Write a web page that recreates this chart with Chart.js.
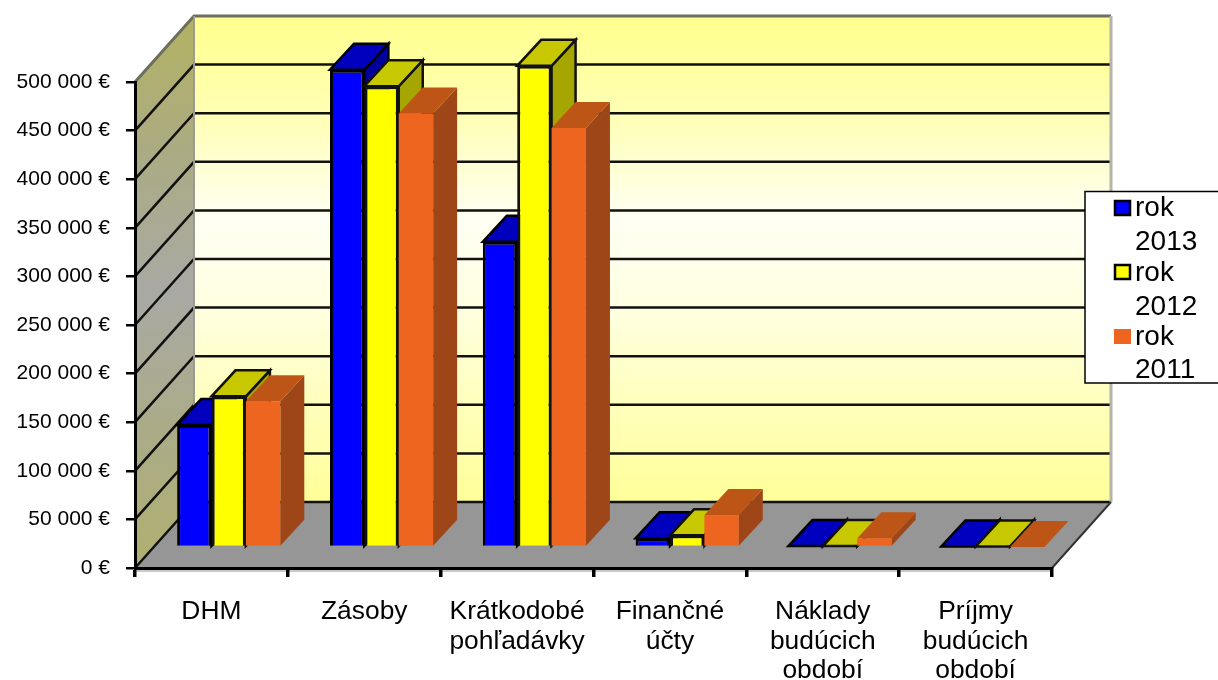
<!DOCTYPE html>
<html><head><meta charset="utf-8">
<style>html,body{margin:0;padding:0;background:#fff}canvas{display:block}</style>
<script src="https://cdn.jsdelivr.net/npm/chart.js@4/dist/chart.umd.min.js"></script>
</head><body><div style="width:1218px;height:680px"><canvas id="c" width="1218" height="680"></canvas></div>
<script>
const categories = [["DHM"],["Zásoby"],["Krátkodobé","pohľadávky"],["Finančné","účty"],["Náklady","budúcich","období"],["Príjmy","budúcich","období"]];
const rok2013 = [125500, 491000, 314000, 9000, 1000, 600];
const rok2012 = [155000, 474000, 495000, 12000, 1000, 600];
const rok2011 = [150000, 446000, 431000, 33000, 9000, 0];
const seriesNames = ["rok 2013","rok 2012","rok 2011"];
const FONT = '"Liberation Sans", Arial, sans-serif';

const WALL_DX = 59, WALL_DY = -66;   // chart box depth
const BAR_SHIFT_X = 17.3, BAR_SHIFT_Y = -21;
const BAR_DX = 24, BAR_DY = -26;     // bar depth
const faces = [
  {top:'#0000BE', side:'#00009C', line:'#000'},
  {top:'#C8C800', side:'#A6A600', line:'#111'},
  {top:'#BD5516', side:'#9E4617', line:null}
];

const poly = (ctx, pts, fill, stroke, lw) => {
  ctx.beginPath();
  pts.forEach((p,i)=> i? ctx.lineTo(p[0],p[1]) : ctx.moveTo(p[0],p[1]));
  ctx.closePath();
  if (fill){ctx.fillStyle=fill;ctx.fill();}
  if (stroke){ctx.strokeStyle=stroke;ctx.lineWidth=lw||2;ctx.lineJoin='miter';ctx.stroke();}
};

const box3d = {
  id:'box3d',
  beforeDraw(chart){
    const {ctx, chartArea:a, scales:{y}} = chart;
    const L=a.left, R=a.right, B=a.bottom, T=y.getPixelForValue(500000);
    const bL=L+WALL_DX, bR=R+WALL_DX-1, bB=B+WALL_DY, bT=T+WALL_DY;
    ctx.save();
    // back wall
    const g=ctx.createLinearGradient(0,bT,0,bB);
    g.addColorStop(0,'#FFFF8E'); g.addColorStop(.2,'#FFFFB4'); g.addColorStop(.42,'#FFFFF4');
    g.addColorStop(.6,'#FFFFE0'); g.addColorStop(1,'#FFFF99');
    poly(ctx,[[bL,bT],[bR,bT],[bR,bB],[bL,bB]],g);
    // left wall
    const g2=ctx.createLinearGradient(0,bT,0,B);
    g2.addColorStop(0,'#B2B262'); g2.addColorStop(.25,'#ABAB84'); g2.addColorStop(.5,'#A9A9A4');
    g2.addColorStop(.75,'#ABAB88'); g2.addColorStop(1,'#B0B070');
    poly(ctx,[[L,T],[bL,bT],[bL,bB],[L,B]],g2);
    // floor
    poly(ctx,[[L,B],[bL,bB],[bR,bB],[R,B]],'#969696');
    // gridlines
    y.ticks.forEach((t)=>{
      const py=y.getPixelForValue(t.value);
      if (t.value>=500000) return;
      ctx.beginPath();
      ctx.moveTo(L,py); ctx.lineTo(bL,py+WALL_DY); ctx.lineTo(bR,py+WALL_DY);
      ctx.strokeStyle='#111'; ctx.lineWidth=2.5; ctx.stroke();
    });
    // edges
    ctx.lineWidth=3; ctx.strokeStyle='#6E6E60';
    ctx.beginPath(); ctx.moveTo(L,T); ctx.lineTo(bL,bT); ctx.lineTo(bR+1,bT); ctx.stroke();
    ctx.lineWidth=2; ctx.strokeStyle='#9A9A90';
    ctx.beginPath(); ctx.moveTo(bL,bT); ctx.lineTo(bL,bB); ctx.stroke();
    ctx.lineWidth=3; ctx.strokeStyle='#B4B4A8';
    ctx.beginPath(); ctx.moveTo(bR+1,bT); ctx.lineTo(bR+1,bB); ctx.stroke();
    ctx.lineWidth=2; ctx.strokeStyle='#333';
    ctx.beginPath(); ctx.moveTo(R,B); ctx.lineTo(bR+1,bB); ctx.stroke();
    ctx.fillStyle='#C8C8C8'; ctx.fillRect(L,B+1,R-L,3);
    ctx.restore();
  },
  beforeDatasetsDraw(chart){
    const {ctx}=chart;
    ctx.save();
    ctx.translate(BAR_SHIFT_X,BAR_SHIFT_Y);
    // painter's order: first series at the back of the overlap, each with its depth faces
    chart.data.datasets.forEach((d,i)=>{
      const f=faces[i], meta=chart.getDatasetMeta(i);
      meta.data.forEach(el=>{
        const x0=el.x-el.width/2, x1=el.x+el.width/2, y0=el.y, yb=el.base;
        poly(ctx,[[x1,y0],[x1+BAR_DX,y0+BAR_DY],[x1+BAR_DX,yb+BAR_DY],[x1,yb]],f.side,f.line,2.5);
        poly(ctx,[[x0,y0],[x1,y0],[x1+BAR_DX,y0+BAR_DY],[x0+BAR_DX,y0+BAR_DY]],f.top,f.line,2.5);
      });
      meta.controller.draw();
    });
    ctx.restore();
    return false;
  },
  afterDraw(chart){
    const {ctx}=chart;
    ctx.save();
    ctx.fillStyle='#fff'; ctx.strokeStyle='#000'; ctx.lineWidth=1.5;
    ctx.fillRect(1085,191.5,134,191.5);
    ctx.strokeRect(1085,191.5,140,191.5);
    ctx.font='28px '+FONT; ctx.textBaseline='alphabetic'; ctx.textAlign='left';
    const rows=[[200,216,250],[264,281,315],[329,345,378]];
    chart.data.datasets.forEach((d,i)=>{
      const [sy,b1,b2]=rows[i];
      ctx.fillStyle=d.backgroundColor;
      ctx.fillRect(1114,sy,17,15);
      if(d.borderWidth){ctx.strokeStyle='#000';ctx.lineWidth=2.5;ctx.strokeRect(1115,sy+1,15,14);}
      const [w1,w2]=d.label.split(' ');
      ctx.fillStyle='#000';
      ctx.fillText(w1,1135,b1);
      ctx.fillText(w2,1135,b2);
    });
    ctx.restore();
  }
};

new Chart(document.getElementById('c'),{
  type:'bar',
  data:{labels:categories,datasets:[
    {label:seriesNames[0],data:rok2013,backgroundColor:'#0000FF',borderColor:'#000',borderWidth:3},
    {label:seriesNames[1],data:rok2012,backgroundColor:'#FFFF00',borderColor:'#111',borderWidth:3},
    {label:seriesNames[2],data:rok2011,backgroundColor:'#EE651F',borderWidth:0}
  ]},
  plugins:[box3d],
  options:{
    responsive:false,animation:false,events:[],
    layout:{padding:{top:82,right:166,left:0,bottom:0}},
    categoryPercentage:.675,barPercentage:1,
    plugins:{legend:{display:false},tooltip:{enabled:false},title:{display:false}},
    scales:{
      x:{
        grid:{drawOnChartArea:false,drawTicks:true,tickLength:9,color:'#000',lineWidth:3.5},
        border:{display:true,color:'#000',width:3},
        ticks:{color:'#000',font:{family:FONT,size:26.4,lineHeight:1.12},padding:20,maxRotation:0,autoSkip:false},
        afterFit(s){s.height=112;}
      },
      y:{
        min:0,max:500000,
        grid:{drawOnChartArea:false,drawTicks:true,tickLength:9,color:'#000',lineWidth:2.5},
        border:{display:true,color:'#000',width:3},
        ticks:{color:'#000',stepSize:50000,font:{family:FONT,size:21},padding:16,
          callback:v=>String(v).replace(/\B(?=(\d{3})+$)/g,' ')+' €'},
        afterFit(s){s.width=135;}
      }
    }
  }
});
</script></body></html>
